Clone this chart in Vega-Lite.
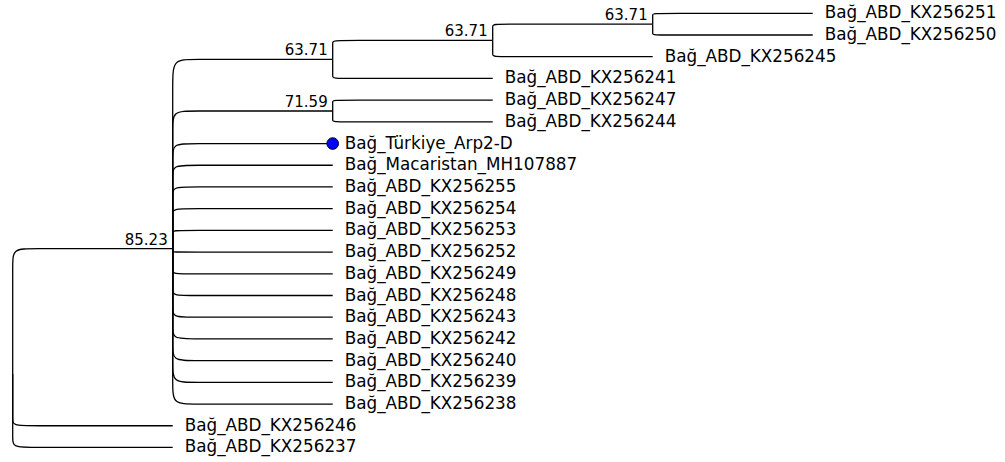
{
  "$schema": "https://vega.github.io/schema/vega-lite/v6.json",
  "width": 1005,
  "height": 462,
  "padding": 0,
  "autosize": {"type": "none"},
  "background": "white",
  "config": {"view": {"stroke": null}},
  "datasets": {
    "edges": [
      {"e":1,"o":0,"x":0,"y":17.614},{"e":1,"o":1,"x":0,"y":11.842},{"e":1,"o":2,"x":0,"y":11.842},{"e":1,"o":3,"x":1,"y":11.842},
      {"e":2,"o":0,"x":0,"y":17.614},{"e":2,"o":1,"x":0,"y":20},{"e":2,"o":2,"x":0,"y":20},{"e":2,"o":3,"x":1,"y":20},
      {"e":3,"o":0,"x":0,"y":17.614},{"e":3,"o":1,"x":0,"y":21},{"e":3,"o":2,"x":0,"y":21},{"e":3,"o":3,"x":1,"y":21},
      {"e":4,"o":0,"x":1,"y":11.842},{"e":4,"o":1,"x":1,"y":3.125},{"e":4,"o":2,"x":1,"y":3.125},{"e":4,"o":3,"x":2,"y":3.125},
      {"e":5,"o":0,"x":1,"y":11.842},{"e":5,"o":1,"x":1,"y":5.5},{"e":5,"o":2,"x":1,"y":5.5},{"e":5,"o":3,"x":2,"y":5.5},
      {"e":6,"o":0,"x":1,"y":11.842},{"e":6,"o":1,"x":1,"y":7},{"e":6,"o":2,"x":1,"y":7},{"e":6,"o":3,"x":2,"y":7},
      {"e":7,"o":0,"x":1,"y":11.842},{"e":7,"o":1,"x":1,"y":8},{"e":7,"o":2,"x":1,"y":8},{"e":7,"o":3,"x":2,"y":8},
      {"e":8,"o":0,"x":1,"y":11.842},{"e":8,"o":1,"x":1,"y":9},{"e":8,"o":2,"x":1,"y":9},{"e":8,"o":3,"x":2,"y":9},
      {"e":9,"o":0,"x":1,"y":11.842},{"e":9,"o":1,"x":1,"y":10},{"e":9,"o":2,"x":1,"y":10},{"e":9,"o":3,"x":2,"y":10},
      {"e":10,"o":0,"x":1,"y":11.842},{"e":10,"o":1,"x":1,"y":11},{"e":10,"o":2,"x":1,"y":11},{"e":10,"o":3,"x":2,"y":11},
      {"e":11,"o":0,"x":1,"y":11.842},{"e":11,"o":1,"x":1,"y":12},{"e":11,"o":2,"x":1,"y":12},{"e":11,"o":3,"x":2,"y":12},
      {"e":12,"o":0,"x":1,"y":11.842},{"e":12,"o":1,"x":1,"y":13},{"e":12,"o":2,"x":1,"y":13},{"e":12,"o":3,"x":2,"y":13},
      {"e":13,"o":0,"x":1,"y":11.842},{"e":13,"o":1,"x":1,"y":14},{"e":13,"o":2,"x":1,"y":14},{"e":13,"o":3,"x":2,"y":14},
      {"e":14,"o":0,"x":1,"y":11.842},{"e":14,"o":1,"x":1,"y":15},{"e":14,"o":2,"x":1,"y":15},{"e":14,"o":3,"x":2,"y":15},
      {"e":15,"o":0,"x":1,"y":11.842},{"e":15,"o":1,"x":1,"y":16},{"e":15,"o":2,"x":1,"y":16},{"e":15,"o":3,"x":2,"y":16},
      {"e":16,"o":0,"x":1,"y":11.842},{"e":16,"o":1,"x":1,"y":17},{"e":16,"o":2,"x":1,"y":17},{"e":16,"o":3,"x":2,"y":17},
      {"e":17,"o":0,"x":1,"y":11.842},{"e":17,"o":1,"x":1,"y":18},{"e":17,"o":2,"x":1,"y":18},{"e":17,"o":3,"x":2,"y":18},
      {"e":18,"o":0,"x":1,"y":11.842},{"e":18,"o":1,"x":1,"y":19},{"e":18,"o":2,"x":1,"y":19},{"e":18,"o":3,"x":2,"y":19},
      {"e":19,"o":0,"x":2,"y":3.125},{"e":19,"o":1,"x":2,"y":2.25},{"e":19,"o":2,"x":2,"y":2.25},{"e":19,"o":3,"x":3,"y":2.25},
      {"e":20,"o":0,"x":2,"y":3.125},{"e":20,"o":1,"x":2,"y":4},{"e":20,"o":2,"x":2,"y":4},{"e":20,"o":3,"x":3,"y":4},
      {"e":21,"o":0,"x":3,"y":2.25},{"e":21,"o":1,"x":3,"y":1.5},{"e":21,"o":2,"x":3,"y":1.5},{"e":21,"o":3,"x":4,"y":1.5},
      {"e":22,"o":0,"x":3,"y":2.25},{"e":22,"o":1,"x":3,"y":3},{"e":22,"o":2,"x":3,"y":3},{"e":22,"o":3,"x":4,"y":3},
      {"e":23,"o":0,"x":4,"y":1.5},{"e":23,"o":1,"x":4,"y":1},{"e":23,"o":2,"x":4,"y":1},{"e":23,"o":3,"x":5,"y":1},
      {"e":24,"o":0,"x":4,"y":1.5},{"e":24,"o":1,"x":4,"y":2},{"e":24,"o":2,"x":4,"y":2},{"e":24,"o":3,"x":5,"y":2},
      {"e":25,"o":0,"x":2,"y":5.5},{"e":25,"o":1,"x":2,"y":5},{"e":25,"o":2,"x":2,"y":5},{"e":25,"o":3,"x":3,"y":5},
      {"e":26,"o":0,"x":2,"y":5.5},{"e":26,"o":1,"x":2,"y":6},{"e":26,"o":2,"x":2,"y":6},{"e":26,"o":3,"x":3,"y":6}
    ],
    "tips": [
      {"name":"Bağ_ABD_KX256251","x":5,"y":1},
      {"name":"Bağ_ABD_KX256250","x":5,"y":2},
      {"name":"Bağ_ABD_KX256245","x":4,"y":3},
      {"name":"Bağ_ABD_KX256241","x":3,"y":4},
      {"name":"Bağ_ABD_KX256247","x":3,"y":5},
      {"name":"Bağ_ABD_KX256244","x":3,"y":6},
      {"name":"Bağ_Türkiye_Arp2-D","x":2,"y":7},
      {"name":"Bağ_Macaristan_MH107887","x":2,"y":8},
      {"name":"Bağ_ABD_KX256255","x":2,"y":9},
      {"name":"Bağ_ABD_KX256254","x":2,"y":10},
      {"name":"Bağ_ABD_KX256253","x":2,"y":11},
      {"name":"Bağ_ABD_KX256252","x":2,"y":12},
      {"name":"Bağ_ABD_KX256249","x":2,"y":13},
      {"name":"Bağ_ABD_KX256248","x":2,"y":14},
      {"name":"Bağ_ABD_KX256243","x":2,"y":15},
      {"name":"Bağ_ABD_KX256242","x":2,"y":16},
      {"name":"Bağ_ABD_KX256240","x":2,"y":17},
      {"name":"Bağ_ABD_KX256239","x":2,"y":18},
      {"name":"Bağ_ABD_KX256238","x":2,"y":19},
      {"name":"Bağ_ABD_KX256246","x":1,"y":20},
      {"name":"Bağ_ABD_KX256237","x":1,"y":21}
    ],
    "nodes": [
      {"label":"63.71","x":4,"y":1.5},
      {"label":"63.71","x":3,"y":2.25},
      {"label":"63.71","x":2,"y":3.125},
      {"label":"71.59","x":2,"y":5.5},
      {"label":"85.23","x":1,"y":11.842}
    ],
    "marker": [
      {"x":2,"y":7}
    ]
  },
  "encoding": {
    "x": {"field":"x","type":"quantitative","scale":{"domain":[-0.0794,6.2019],"nice":false,"zero":false},"axis":null},
    "y": {"field":"y","type":"quantitative","scale":{"domain":[0.387,21.67],"nice":false,"zero":false,"reverse":true},"axis":null}
  },
  "layer": [
    {
      "data": {"name":"edges"},
      "mark": {"type":"line","interpolate":"basis","color":"#000000","strokeWidth":1.3},
      "encoding": {
        "detail": {"field":"e","type":"nominal"},
        "order": {"field":"o","type":"quantitative"}
      }
    },
    {
      "data": {"name":"tips"},
      "mark": {"type":"text","align":"left","baseline":"middle","dx":12,"font":"DejaVu Sans","fontSize":16.8,"color":"#000000"},
      "encoding": {"text": {"field":"name","type":"nominal"}}
    },
    {
      "data": {"name":"nodes"},
      "mark": {"type":"text","align":"right","baseline":"alphabetic","dx":-5,"dy":-4,"font":"DejaVu Sans","fontSize":15,"color":"#000000"},
      "encoding": {"text": {"field":"label","type":"nominal"}}
    },
    {
      "data": {"name":"marker"},
      "mark": {"type":"point","shape":"circle","filled":true,"size":135,"color":"#0000ff","stroke":"#000000","strokeWidth":1,"opacity":1},
      "encoding": {}
    }
  ]
}
